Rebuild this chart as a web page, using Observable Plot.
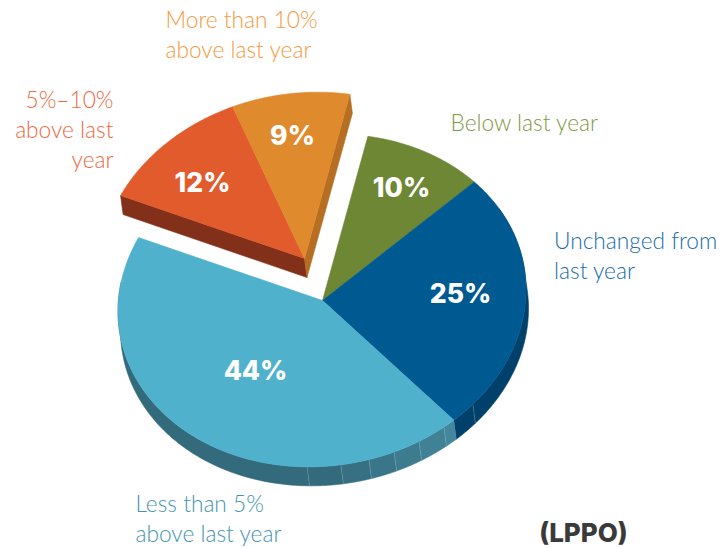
<!DOCTYPE html>
<html>
<head>
<meta charset="utf-8">
<script src="https://cdn.jsdelivr.net/npm/d3@7"></script>
<script src="https://cdn.jsdelivr.net/npm/@observablehq/plot@0.6"></script>
<style>
html,body{margin:0;padding:0;background:#fff;overflow:hidden}
svg{display:block}
</style>
</head>
<body>
<div id="chart"></div>
<script>
// Data, clockwise from the top of the pie
const categories = ["Below last year","Unchanged from\nlast year","Less than 5%\nabove last year","5%–10%\nabove last\nyear","More than 10%\nabove last year"];
const values = [9.8, 25.4, 43.4, 12.1, 9.3];
const percentLabels = ["10%","25%","44%","12%","9%"];

// Styles
const topColors = ["#6D8735","#005A92","#50B1CD","#E15B2C","#E08A2E"];
const sideColors = ["#55692A","#00416B","#336A7C","#82301A","#B56E22"];
const labelColors = ["#7F9A44","#1A6DA8","#4596AE","#F2683F","#F59A40"];
const exploded = [false,false,false,true,true];

// Layout
const W = 722, H = 548;
const cx = 321.5, cy = 300, rx = 204, ry = 166, shear = 0.053;
const explode = {dx:-18, dy:-42};
const depth = {dx:2.5, dy:19};
const startAngle = 13;
const wallFacetAngles = [132.3, 143.3, 151.6, 159.3, 166.7, 174.7, 184.2];
const percentPos = [[401,188],[460,294],[255,371],[202,183],[292,136]];
const labelPos = [
  [450,121,"start"],[553.5,254,"start"],[135,517,"start"],[113,128,"end"],[165,33,"start"]
];
const labelFont = 22.7;

const rad = a => a*Math.PI/180;
const rim = (a,o={dx:0,dy:0}) => ({
  x: cx + rx*Math.sin(rad(a)) + o.dx,
  y: cy - ry*Math.cos(rad(a)) - shear*rx*Math.sin(rad(a)) + o.dy
});
const arcPts = (a0,a1,o) => d3.range(0,121).map(i=>rim(a0+(a1-a0)*i/120,o));
const plus = (o,d) => ({dx:o.dx+d.dx, dy:o.dy+d.dy});

let acc = startAngle;
const slices = values.map((v,i)=>{
  const a0 = acc, a1 = acc + v/d3.sum(values)*360;
  acc = a1;
  const o = exploded[i] ? explode : {dx:0,dy:0};
  return {i,a0,a1,o};
});

const poly = (pts,fill,extra={}) => Plot.line(pts,{x:"x",y:"y",fill,stroke:fill,strokeWidth:0.6,curve:"linear",...extra});
const marks = [];

// Side wall of the main pie, in shaded facets
const nS = slices[1], lS = slices[2];
const lightEdges = [lS.a0,...wallFacetAngles.filter(a=>a>lS.a0),280];
const shade = d3.interpolateRgb("#44879C","#336A7C");
const navyEdges = [60,...wallFacetAngles.filter(a=>a<nS.a1),nS.a1];
navyEdges.slice(0,-1).forEach((a,j)=>{
  const b = navyEdges[j+1];
  marks.push(poly([...arcPts(a,b),...arcPts(a,b,depth).reverse()],sideColors[1]));
});
lightEdges.slice(0,-1).forEach((a,j)=>{
  const b = lightEdges[j+1];
  const c = j>=lightEdges.length-3 ? "#336A7C" : shade(j/(lightEdges.length-3));
  marks.push(poly([...arcPts(a,b),...arcPts(a,b,depth).reverse()],c));
});
// faint facet seams
wallFacetAngles.forEach(a=>{
  const p = rim(a), q = rim(a,depth);
  marks.push(Plot.line([p,q],{x:"x",y:"y",stroke:"#9fc4d0",strokeOpacity:0.35,strokeWidth:0.8}));
});

// Top faces of the main pie
slices.filter(s=>!exploded[s.i]).forEach(s=>{
  const tip = {x:322+s.o.dx,y:300+s.o.dy};
  marks.push(poly([tip,...arcPts(s.a0,s.a1,s.o),tip],topColors[s.i]));
});

// Exploded walls and tops
const red = slices[3], orange = slices[4];
const tipE = {x:322+explode.dx,y:300+explode.dy};
const tipB = {x:tipE.x+depth.dx,y:tipE.y+depth.dy};
const redOut = rim(red.a0,explode), redOutB = rim(red.a0,plus(explode,depth));
const orOut = rim(orange.a1,explode), orOutB = rim(orange.a1,plus(explode,depth));
marks.push(poly([tipE,redOut,redOutB,tipB,tipE],sideColors[3]));
marks.push(poly([tipE,orOut,orOutB,tipB,tipE],sideColors[4]));
[red,orange].forEach(s=>{
  marks.push(poly([tipE,...arcPts(s.a0,s.a1,s.o),tipE],topColors[s.i]));
});

// Percent labels
marks.push(Plot.text(percentLabels.map((t,i)=>({t,x:percentPos[i][0],y:percentPos[i][1]})),{
  x:"x",y:"y",text:"t",fill:"#fff",fontSize:26.5,fontWeight:800,fontFamily:"Inter",textAnchor:"middle",lineAnchor:"middle"
}));

// Category labels
categories.forEach((c,i)=>{
  const [x,y,anchor] = labelPos[i];
  marks.push(Plot.text([{t:c,x,y}],{
    x:"x",y:"y",text:"t",fill:labelColors[i],fontSize:labelFont,fontWeight:300,fontFamily:"Lato",
    textAnchor:anchor,lineAnchor:"middle",lineHeight:30.3/labelFont
  }));
});

// Source tag
marks.push(Plot.text([{t:"(LPPO)",x:583,y:533}],{
  x:"x",y:"y",text:"t",fill:"#3a3a3a",fontSize:26,fontWeight:800,fontFamily:"Inter",textAnchor:"middle",lineAnchor:"middle"
}));

const chart = Plot.plot({
  width:W,height:H,margin:0,
  x:{domain:[0,W],range:[0,W],axis:null},
  y:{domain:[0,H],range:[0,H],axis:null},
  style:{background:"#fff"},
  marks
});
document.getElementById("chart").append(chart);
</script>
</body>
</html>
